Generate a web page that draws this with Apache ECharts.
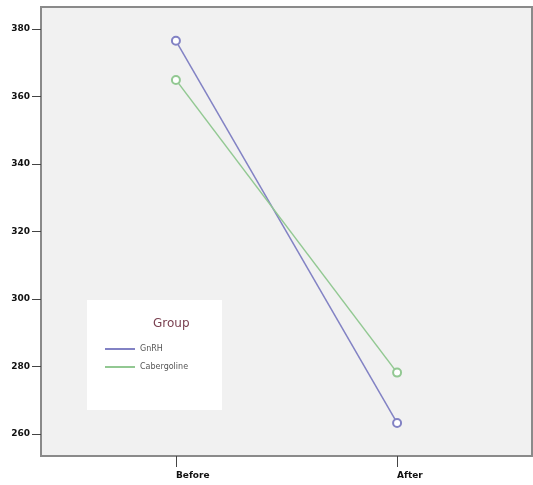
<!DOCTYPE html>
<html>
<head>
<meta charset="utf-8">
<script src="https://cdn.jsdelivr.net/npm/echarts@6/dist/echarts.min.js"></script>
<style>
  html, body { margin: 0; padding: 0; background: #fff; }
  #chart { width: 533px; height: 485px; }
</style>
</head>
<body>
<div id="chart"></div>
<script>
// data
var categories = ['Before', 'After'];
var gnrh = [376.5, 263.3];
var cabergoline = [364.9, 278.2];
var yTicks = [260, 280, 300, 320, 340, 360, 380];

var myChart = echarts.init(document.getElementById('chart'));

function toPoints(arr) {
    return arr.map(function (v, i) { return [i + 1, v]; });
}

var option = {
    animation: false,
    backgroundColor: '#fff',
    title: {
        text: 'Group',
        left: 148,
        top: 313,
        textStyle: { color: '#7a4050', fontSize: 12, fontWeight: 'normal', fontFamily: 'DejaVu Sans' }
    },
    legend: {
        orient: 'vertical',
        left: 87,
        top: 300,
        padding: [45, 34, 39, 18],
        backgroundColor: '#fff',
        icon: 'rect',
        itemWidth: 30,
        itemHeight: 2,
        itemGap: 10,
        textStyle: { color: '#555', fontSize: 8, fontFamily: 'DejaVu Sans' },
        data: ['GnRH', 'Cabergoline']
    },
    grid: {
        left: 41,
        top: 7,
        right: 1,
        bottom: 29,
        show: true,
        backgroundColor: '#f1f1f1',
        borderColor: '#8a8a8a',
        borderWidth: 2
    },
    xAxis: {
        type: 'value',
        min: 0.39,
        max: 2.61,
        splitLine: { show: false },
        axisLine: { show: false },
        axisTick: { show: true, length: 11, lineStyle: { color: '#444' }, customValues: [1, 2] },
        axisLabel: {
            customValues: [1, 2],
            margin: 15,
            align: 'left',
            color: '#111',
            fontSize: 9,
            fontWeight: 'bold',
            fontFamily: 'DejaVu Sans',
            formatter: function (v) { return categories[Math.round(v) - 1] || ''; }
        }
    },
    yAxis: {
        type: 'value',
        min: 253.5,
        max: 386.5,
        splitLine: { show: false },
        axisLine: { show: false },
        axisTick: { show: true, length: 9, lineStyle: { color: '#444' }, customValues: yTicks },
        axisLabel: {
            customValues: yTicks,
            margin: 11,
            color: '#111',
            fontSize: 9,
            fontWeight: 'bold',
            fontFamily: 'DejaVu Sans'
        }
    },
    series: [
        {
            name: 'GnRH',
            type: 'line',
            data: toPoints(gnrh),
            symbol: 'emptyCircle',
            symbolSize: 8,
            color: '#8282c4',
            lineStyle: { width: 1.5 }
        },
        {
            name: 'Cabergoline',
            type: 'line',
            data: toPoints(cabergoline),
            symbol: 'emptyCircle',
            symbolSize: 8,
            color: '#92c892',
            lineStyle: { width: 1.5 }
        }
    ]
};

myChart.setOption(option);
</script>
</body>
</html>
